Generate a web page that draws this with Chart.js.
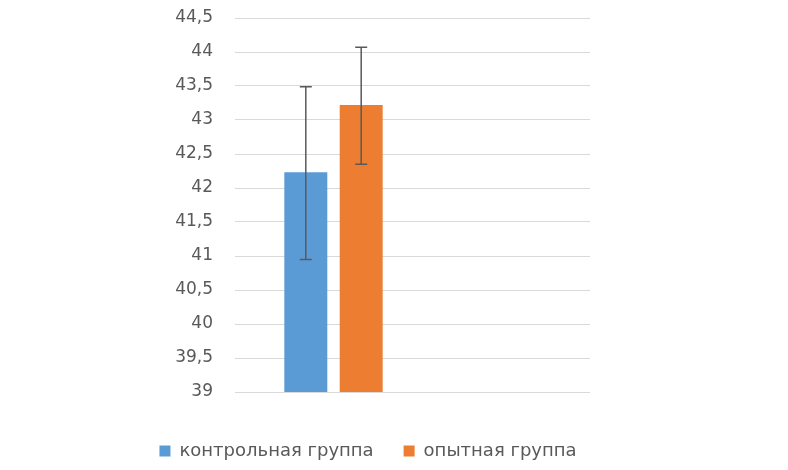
<!DOCTYPE html>
<html>
<head>
<meta charset="utf-8">
<script src="https://cdn.jsdelivr.net/npm/chart.js@4"></script>
<style>
  html, body { margin: 0; padding: 0; background: #fff; }
  #wrap { width: 788px; height: 470px; }
</style>
</head>
<body>
<div id="wrap"><canvas id="chart"></canvas></div>
<script>
const groups = ['контрольная группа', 'опытная группа'];
const means = [42.23, 43.22];
const errLow = [40.95, 42.35];
const errHigh = [43.49, 44.07];
const colors = ['#5B9BD5', '#ED7D31'];

const yMin = 39;
const yMax = 44.5;
const yStep = 0.5;

// error bars drawn with the y scale
const errorBars = {
    id: 'errorBars',
    afterDatasetsDraw(chart) {
        const ctx = chart.ctx;
        const yScale = chart.scales.y;
        ctx.save();
        ctx.strokeStyle = '#595959';
        ctx.lineWidth = 1.5;
        chart.data.datasets.forEach((ds, i) => {
            const bar = chart.getDatasetMeta(i).data[0];
            if (!bar) return;
            const x = bar.x;
            const top = yScale.getPixelForValue(errHigh[i]);
            const bottom = yScale.getPixelForValue(errLow[i]);
            const cap = 6;
            ctx.beginPath();
            ctx.moveTo(x, top);
            ctx.lineTo(x, bottom);
            ctx.moveTo(x - cap, top);
            ctx.lineTo(x + cap, top);
            ctx.moveTo(x - cap, bottom);
            ctx.lineTo(x + cap, bottom);
            ctx.stroke();
        });
        ctx.restore();
    }
};

new Chart(document.getElementById('chart'), {
    type: 'bar',
    data: {
        datasets: groups.map((g, i) => ({
            label: g,
            data: [{ x: 0, y: means[i] }],
            backgroundColor: colors[i],
            categoryPercentage: 0.312,
            barPercentage: 0.776
        }))
    },
    options: {
        responsive: true,
        maintainAspectRatio: false,
        animation: false,
        layout: { padding: { left: 100, right: 152, top: 18, bottom: 0 } },
        scales: {
            x: {
                type: 'linear',
                min: -0.5,
                max: 1.302,
                display: false,
                afterBuildTicks: s => { s.ticks = []; }
            },
            y: {
                min: yMin,
                max: yMax,
                border: { display: false },
                grid: { color: '#D9D9D9', lineWidth: 1, drawTicks: false },
                ticks: {
                    stepSize: yStep,
                    padding: 22,
                    color: '#595959',
                    font: { family: 'DejaVu Sans', size: 17 },
                    callback: v => String(v).replace('.', ',')
                },
                afterFit: s => { s.width = 135; s.paddingTop = 0; s.paddingBottom = 0; }
            },
            // empty right-hand margin so the plot ends where the reference does
            yRight: {
                position: 'right',
                display: true,
                grid: { display: false },
                border: { display: false },
                ticks: { display: false },
                afterFit: s => { s.width = 46; s.paddingTop = 0; s.paddingBottom = 0; }
            }
        },
        plugins: {
            tooltip: { enabled: false },
            legend: {
                position: 'bottom',
                title: { display: true, text: '', font: { size: 10 }, padding: { top: 8, bottom: 0 } },
                labels: {
                    boxWidth: 11,
                    boxHeight: 11,
                    padding: 30,
                    color: '#595959',
                    font: { family: 'DejaVu Sans', size: 18 }
                }
            }
        }
    },
    plugins: [errorBars]
});
</script>
</body>
</html>
